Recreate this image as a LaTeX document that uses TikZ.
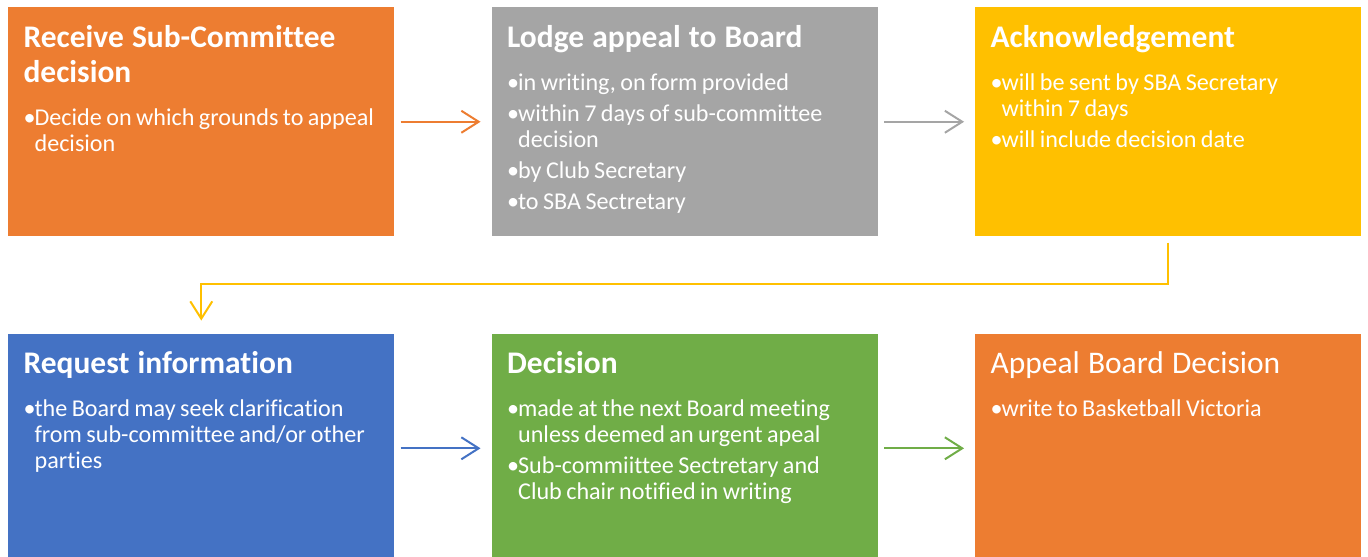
\documentclass[tikz,border=0pt]{standalone}
\usepackage{fontspec}
\setmainfont{Carlito}[Ligatures=NoCommon]
\usetikzlibrary{positioning, arrows.meta}

\definecolor{stageorange}{HTML}{ED7D31}
\definecolor{stagegray}{HTML}{A5A5A5}
\definecolor{stageyellow}{HTML}{FFC000}
\definecolor{stageblue}{HTML}{4472C4}
\definecolor{stagegreen}{HTML}{70AD47}

% title of a stage, then body font for the bullets
\newcommand\stagetitle[2][\bfseries]{%
  {\fontsize{23.6}{26.25}\selectfont #1\spaceskip=.26em\relax #2\par}%
  \fontsize{18.1}{19.5}\selectfont\setlength\parskip{3.75pt}\vspace{9pt}}
\newcommand\bul[1]{\noindent\hangindent=8.25pt\hangafter=1\makebox[8.25pt][l]{•}#1\par}

\tikzset{
  stagebox/.style={
    rectangle,
    fill=#1,
    minimum width=289.5pt,
    minimum height=171.75pt,
    inner sep=0pt
  },
  stagetext/.style={
    anchor=base west,
    text width=275pt,
    align=left,
    text=white,
    inner sep=0pt
  },
  arrow/.style={
    line width=1.5pt,
    draw=#1,
    -{Straight Barb[length=13pt, width=16.5pt]},
    shorten <=4.5pt,
    shorten >=8.25pt
  }
}

\begin{document}
\begin{tikzpicture}[node distance=72.75pt]

\useasboundingbox (-6pt,5.25pt) rectangle (1020pt,-412.5pt);

% Boxes
\node (recv) [stagebox=stageorange, anchor=north west] at (0,0) {};
\node (lodge) [stagebox=stagegray, right=of recv] {};
\node (ack) [stagebox=stageyellow, right=of lodge] {};

\node (req) [stagebox=stageblue, below=of recv] {};
\node (dec) [stagebox=stagegreen, right=of req] {};
\node (board) [stagebox=stageorange, right=of dec] {};

% Texts
\node (recv-txt) [stagetext] at ([shift={(11.5pt,-30pt)}]recv.north west) {%
  \stagetitle{Receive Sub-Committee\newline decision}
  \bul{Decide on which grounds to appeal\newline decision}};
\node (lodge-txt) [stagetext] at ([shift={(11.5pt,-30pt)}]lodge.north west) {%
  \stagetitle{Lodge appeal to Board}
  \bul{in writing, on form provided}
  \bul{within 7 days of sub-committee\newline decision}
  \bul{by Club Secretary}
  \bul{to SBA Sectretary}};
\node (ack-txt) [stagetext] at ([shift={(11.5pt,-30pt)}]ack.north west) {%
  \stagetitle{Acknowledgement}
  \bul{will be sent by SBA Secretary\newline within 7 days}
  \bul{will include decision date}};
\node (req-txt) [stagetext] at ([shift={(11.5pt,-30pt)}]req.north west) {%
  \stagetitle{Request information}
  \bul{the Board may seek clarification\newline from sub-committee and/or other\newline parties}};
\node (dec-txt) [stagetext] at ([shift={(11.5pt,-30pt)}]dec.north west) {%
  \stagetitle{Decision}
  \bul{made at the next Board meeting\newline unless deemed an urgent apeal}
  \bul{Sub-commiittee Sectretary and\newline Club chair notified in writing}};
\node (board-txt) [stagetext] at ([shift={(11.5pt,-30pt)}]board.north west) {%
  \stagetitle[\mdseries]{Appeal Board Decision}
  \bul{write to Basketball Victoria}};

% Arrows
\draw [arrow=stageorange] (recv) -- (lodge);
\draw [arrow=stagegray] (lodge) -- (ack);
\draw [arrow=stageyellow, shorten >=9.75pt] (ack.south) -- ++(0,-35.25pt) -| (req.north);
\draw [arrow=stageblue] (req) -- (dec);
\draw [arrow=stagegreen] (dec) -- (board);

\end{tikzpicture}
\end{document}
